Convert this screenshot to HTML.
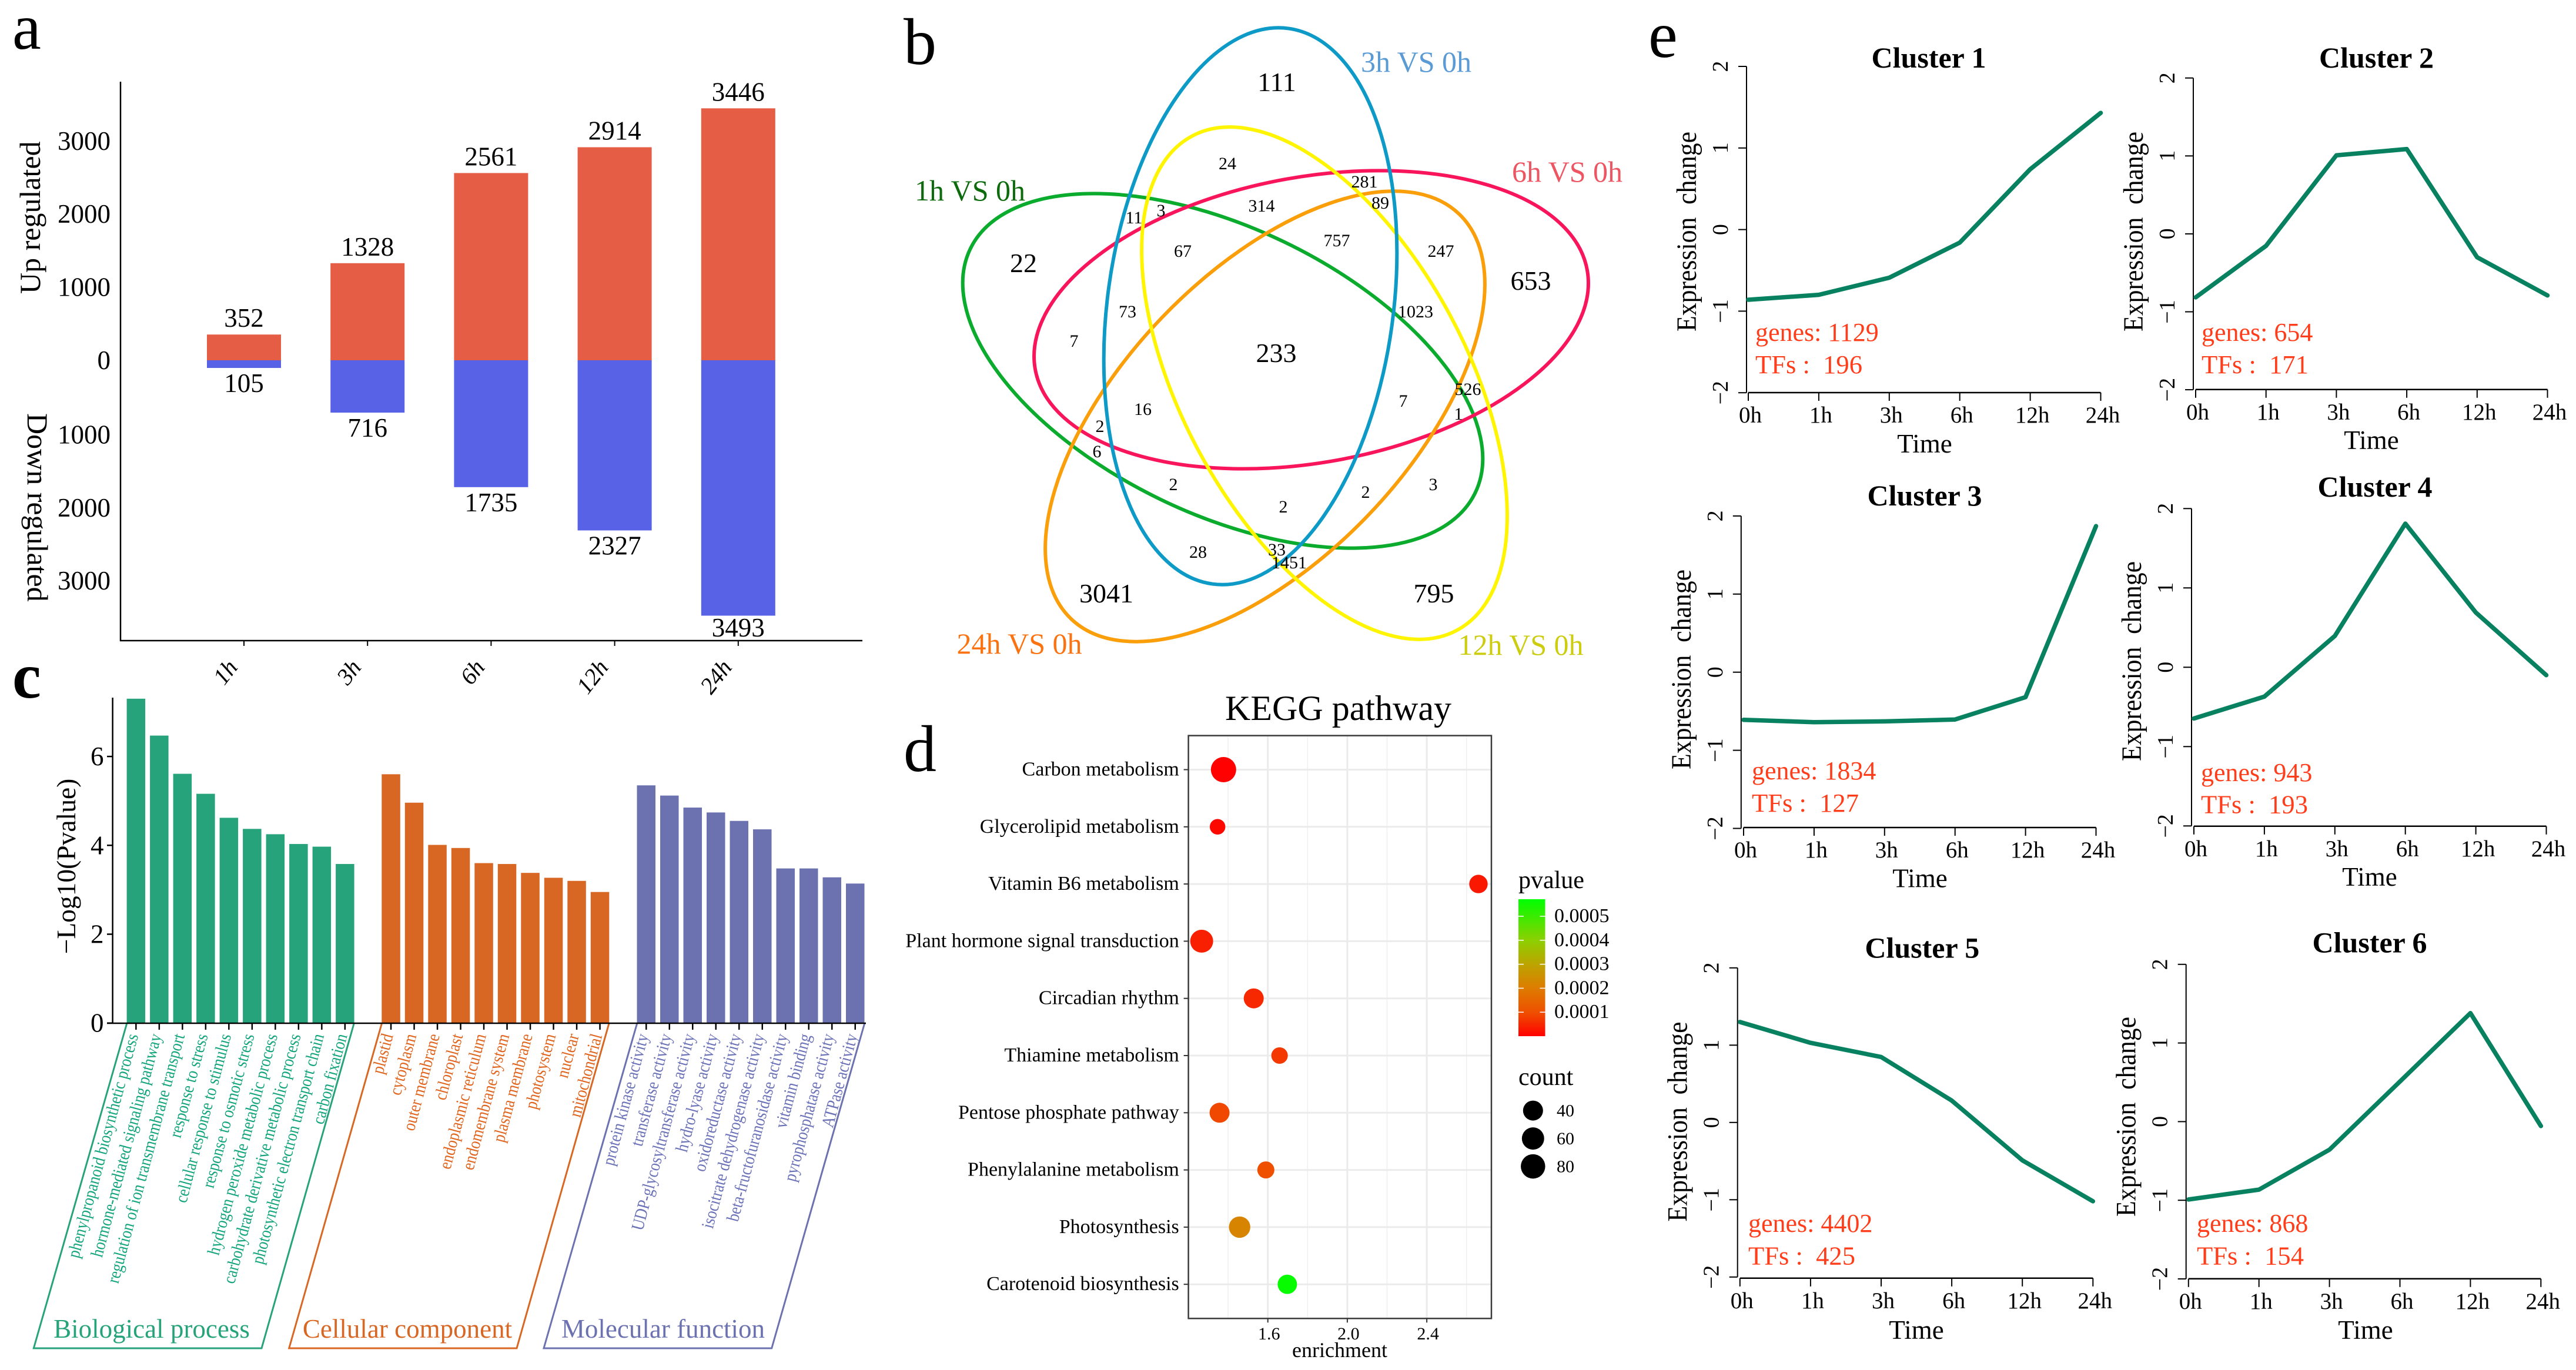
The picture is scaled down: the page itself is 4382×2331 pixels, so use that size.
<!DOCTYPE html>
<html lang="en">
<head>
<meta charset="utf-8">
<title>Transcriptome time-course figure</title>
<style>
html,body{margin:0;padding:0;background:#fff;}
svg{display:block;}
svg text{font-family:"Liberation Serif","Noto Serif CJK SC",serif;white-space:pre;}
</style>
</head>
<body>
<svg id="fig" xmlns="http://www.w3.org/2000/svg" width="4382" height="2331" viewBox="0 0 4382 2331">
<defs>
<linearGradient id="pvalGrad" x1="0" y1="1" x2="0" y2="0"></linearGradient>
</defs>
<rect x="0" y="0" width="4382" height="2331" fill="#ffffff"/>

<text x="21" y="83" font-size="110">a</text>
<text x="1537" y="109" font-size="112">b</text>
<text x="21" y="1187" font-size="110" font-weight="bold">c</text>
<text x="1537" y="1312" font-size="112">d</text>
<text x="2804" y="97" font-size="112">e</text>

<g id="panelA">
  <text transform="translate(68,500) rotate(-90)" font-size="50">Up regulated</text>
  <text transform="translate(47,703) rotate(90)" font-size="50">Down regulated</text>
</g>

<g id="panelB" font-size="30" text-anchor="middle">
  <ellipse cx="2080" cy="631" rx="243" ry="477" transform="rotate(-64.2 2080 631)" fill="none" stroke="#0bab2e" stroke-width="6"/>
  <ellipse cx="2230.5" cy="544" rx="243" ry="477" transform="rotate(79.8 2230.5 544)" fill="none" stroke="#f9155c" stroke-width="6"/>
  <ellipse cx="2152" cy="708.5" rx="243" ry="477" transform="rotate(43.8 2152 708.5)" fill="none" stroke="#fa9e0a" stroke-width="6"/>
  <ellipse cx="2253" cy="652" rx="243" ry="477" transform="rotate(-28.2 2253 652)" fill="none" stroke="#fff500" stroke-width="6"/>
  <ellipse cx="2127" cy="521" rx="243" ry="477" transform="rotate(7.8 2127 521)" fill="none" stroke="#0e9ac7" stroke-width="6"/>

  <text x="2409" y="122" font-size="50" fill="#5b9bd5">3h VS 0h</text>
  <text x="2666" y="309" font-size="50" fill="#ee5563">6h VS 0h</text>
  <text x="1650" y="341" font-size="50" fill="#0d6b0d">1h VS 0h</text>
  <text x="1734" y="1112" font-size="50" fill="#fb7310">24h VS 0h</text>
  <text x="2587" y="1114" font-size="50" fill="#cccc10">12h VS 0h</text>

  <text x="2172" y="155" font-size="46">111</text>
  <text x="2088" y="288">24</text>
  <text x="2321" y="319">281</text>
  <text x="2348" y="355">89</text>
  <text x="2146" y="360">314</text>
  <text x="1975" y="368">3</text>
  <text x="1929" y="380">11</text>
  <text x="2012" y="437">67</text>
  <text x="2274" y="419">757</text>
  <text x="2451" y="437">247</text>
  <text x="2604" y="493" font-size="46">653</text>
  <text x="1741" y="463" font-size="46">22</text>
  <text x="1918" y="540">73</text>
  <text x="2408" y="540">1023</text>
  <text x="1827" y="590">7</text>
  <text x="2171" y="616" font-size="46">233</text>
  <text x="1944" y="706">16</text>
  <text x="2497" y="672">526</text>
  <text x="2387" y="692">7</text>
  <text x="2481" y="714">1</text>
  <text x="1871" y="735">2</text>
  <text x="1866" y="778">6</text>
  <text x="1996" y="834">2</text>
  <text x="2438" y="834">3</text>
  <text x="2323" y="847">2</text>
  <text x="2183" y="872">2</text>
  <text x="2038" y="949">28</text>
  <text x="2172" y="945">33</text>
  <text x="2193" y="967">1451</text>
  <text x="1882" y="1025" font-size="46">3041</text>
  <text x="2439" y="1025" font-size="46">795</text>
</g>

<g id="panelC">
  <text transform="translate(128,1474) rotate(-90)" font-size="45.5" text-anchor="middle">−Log10(Pvalue)</text>
  <polyline points="215.6,1742 57.3,2294 445,2294 602,1742" fill="none" stroke="#27a37c" stroke-width="3"/>
  <polyline points="649.3,1742 491.7,2294 879,2294 1035.8,1742" fill="none" stroke="#d96724" stroke-width="3"/>
  <polyline points="1083.5,1742 925,2294 1312.7,2294 1470.5,1742" fill="none" stroke="#6c72b0" stroke-width="3"/>
  <text x="258" y="2276" font-size="45" text-anchor="middle" fill="#27a37c">Biological process</text>
  <text x="693" y="2276" font-size="45" text-anchor="middle" fill="#d96724">Cellular component</text>
  <text x="1128" y="2276" font-size="45" text-anchor="middle" fill="#6c72b0">Molecular function</text>
</g>

<g id="panelD">
  <text x="2276.5" y="1225" font-size="60" text-anchor="middle">KEGG pathway</text>
  <text x="2279" y="2309" font-size="36" text-anchor="middle">enrichment</text>
  <text x="2583" y="1511" font-size="42">pvalue</text>
  <text x="2583" y="1846" font-size="42">count</text>
  <rect x="2583" y="1530" width="45.5" height="233" fill="url(#pvalGrad)"/>
</g>

<g id="panelE"></g>
</svg>

<script>
/* ---------- Panel a data ---------- */
const timeCategories = ['1h', '3h', '6h', '12h', '24h'];
const upCounts = [352, 1328, 2561, 2914, 3446];
const downCounts = [105, 716, 1735, 2327, 3493];
const upTicks = [0, 1000, 2000, 3000];
const downTicks = [1000, 2000, 3000];

/* ---------- Panel c data ---------- */
const bpTerms = ['phenylpropanoid biosynthetic process', 'hormone-mediated signaling pathway', 'regulation of ion transmembrane transport', 'response to stress', 'cellular response to stimulus', 'response to osmotic stress', 'hydrogen peroxide metabolic process', 'carbohydrate derivative metabolic process', 'photosynthetic electron transport chain', 'carbon fixation'];
const bpValues = [7.30, 6.47, 5.61, 5.16, 4.62, 4.37, 4.25, 4.03, 3.97, 3.58];
const ccTerms = ['plastid', 'cytoplasm', 'outer membrane', 'chloroplast', 'endoplasmic reticulum', 'endomembrane system', 'plasma membrane', 'photosystem', 'nuclear', 'mitochondrial'];
const ccValues = [5.60, 4.96, 4.01, 3.94, 3.60, 3.58, 3.38, 3.27, 3.20, 2.95];
const mfTerms = ['protein kinase activity', 'transferase activity', 'UDP-glycosyltransferase activity', 'hydro-lyase activity', 'oxidoreductase activity', 'isocitrate dehydrogenase activity', 'beta-fructofuranosidase activity', 'vitamin binding', 'pyrophosphatase activity', 'ATPase activity'];
const mfValues = [5.35, 5.12, 4.85, 4.74, 4.55, 4.36, 3.48, 3.48, 3.28, 3.14];
const goTicks = [0, 2, 4, 6];

/* ---------- Panel d data ---------- */
const keggPathways = ['Carbon metabolism', 'Glycerolipid metabolism', 'Vitamin B6 metabolism', 'Plant hormone signal transduction', 'Circadian rhythm', 'Thiamine metabolism', 'Pentose phosphate pathway', 'Phenylalanine metabolism', 'Photosynthesis', 'Carotenoid biosynthesis'];
const keggEnrichment = [1.377, 1.347, 2.66, 1.267, 1.529, 1.659, 1.357, 1.59, 1.458, 1.698];
const keggCount = [89, 8, 28, 66, 40, 14, 40, 18, 52, 35];
const keggPvalue = [0.000001, 0.00001, 0.00003, 0.00004, 0.00005, 0.00007, 0.00009, 0.0001, 0.00022, 0.00056];
const enrichmentTicks = [1.6, 2.0, 2.4];
const enrichmentMinorTicks = [1.4, 1.8, 2.2, 2.6];
const pvalueTicks = [0.0001, 0.0002, 0.0003, 0.0004, 0.0005];
const pvalueScaleDomain = [0, 0.0001, 0.0002, 0.0003, 0.0004, 0.00057];
const pvalueScaleColors = ['#ff0000', '#ee5000', '#de7c00', '#bca400', '#8cd000', '#00ff00'];
const countLegend = [40, 60, 80];

/* ---------- Panel e data ---------- */
const clusterTimes = ['0h', '1h', '3h', '6h', '12h', '24h'];
const clusterYTicks = [-2, -1, 0, 1, 2];
const cluster1Values = [-0.86, -0.80, -0.59, -0.16, 0.74, 1.43];
const cluster2Values = [-0.815, -0.154, 1.008, 1.088, -0.30, -0.79];
const cluster3Values = [-0.61, -0.64, -0.63, -0.606, -0.32, 1.87];
const cluster4Values = [-0.646, -0.37, 0.395, 1.81, 0.69, -0.10];
const cluster5Values = [1.30, 1.03, 0.847, 0.283, -0.49, -1.02];
const cluster6Values = [-0.99, -0.865, -0.357, 0.51, 1.38, -0.056];
const clusterGenes = [1129, 654, 1834, 943, 4402, 868];
const clusterTFs = [196, 171, 127, 193, 425, 154];

/* ---------- helpers ---------- */
const NS = 'http://www.w3.org/2000/svg';
function node(parent, tag, attrs) {
  const e = document.createElementNS(NS, tag);
  for (const k in attrs) e.setAttribute(k, attrs[k]);
  parent.appendChild(e);
  return e;
}
function label(parent, str, x, y, size, opts) {
  const o = opts || {};
  const e = node(parent, 'text', { x: x, y: y, 'font-size': size });
  if (o.anchor) e.setAttribute('text-anchor', o.anchor);
  if (o.fill) e.setAttribute('fill', o.fill);
  if (o.weight) e.setAttribute('font-weight', o.weight);
  if (o.italic) e.setAttribute('font-style', 'italic');
  if (o.squeeze) {
    e.setAttribute('transform', 'translate(' + x + ' ' + y + ') rotate(' + (o.rotate || 0) + ') scale(' + o.squeeze + ' 1) translate(' + (-x) + ' ' + (-y) + ')');
  } else if (o.rotate !== undefined) {
    e.setAttribute('transform', 'rotate(' + o.rotate + ' ' + x + ' ' + y + ')');
  }
  if (o.length) { e.setAttribute('textLength', o.length); e.setAttribute('lengthAdjust', 'spacingAndGlyphs'); }
  e.textContent = str;
  return e;
}
function line(parent, x1, y1, x2, y2, color, w) {
  return node(parent, 'line', { x1: x1, y1: y1, x2: x2, y2: y2, stroke: color, 'stroke-width': w });
}

/* ---------- Panel a ---------- */
(function () {
  const g = document.getElementById('panelA');
  const xA = i => 415 + i * 210.2;
  const yA = v => 613 - v * 0.1244;
  const barW = 126;
  timeCategories.forEach((c, i) => {
    const topUp = yA(upCounts[i]);
    const up = node(g, 'rect', { x: xA(i) - barW / 2, y: topUp, width: barW, height: yA(0) - topUp, fill: '#e65d46' });
    
    
    const bottom = yA(-downCounts[i]);
    const dn = node(g, 'rect', { x: xA(i) - barW / 2, y: yA(0), width: barW, height: bottom - yA(0), fill: '#5762e6' });
    
    
    const upL = label(g, String(upCounts[i]), xA(i), topUp - 13, 45, { anchor: 'middle' });
    
    
    const dnL = label(g, String(downCounts[i]), xA(i), Math.min(bottom + 41, 1083), 45, { anchor: 'middle' });
    
    
    const tick = line(g, xA(i), 1090, xA(i), 1099, '#000', 2);
    
    
    const tl = label(g, c, xA(i) - 9, 1136, 40, { anchor: 'end', italic: true, rotate: -52 });
    
    
  });
  upTicks.forEach(v => {
    const t = label(g, String(v), 188, yA(v) + 15, 45, { anchor: 'end' });
    
    
  });
  downTicks.forEach(v => {
    const t = label(g, String(v), 188, yA(-v) + 17, 45, { anchor: 'end' });
    
    
  });
  const ya = line(g, 205, 139, 205, 1091, '#000', 2.5);
  
  
  const xa = line(g, 204, 1090, 1467, 1090, '#000', 2.5);
  
  
})();

/* ---------- Panel c ---------- */
(function () {
  const g = document.getElementById('panelC');
  const yC = v => 1740.7 - v * 75.6;
  const groups = [
    { start: 215.6, color: '#27a37c', textColor: '#14a57c', terms: bpTerms, vals: bpValues },
    { start: 649.3, color: '#d96724', textColor: '#e0651f', terms: ccTerms, vals: ccValues },
    { start: 1083.5, color: '#6c72b0', textColor: '#6c72b8', terms: mfTerms, vals: mfValues }
  ];
  const step = 39.5, w = 31.5;
  groups.forEach(gr => {
    gr.vals.forEach((v, i) => {
      const x = gr.start + i * step;
      const b = node(g, 'rect', { x: x, y: yC(v), width: w, height: yC(0) - yC(v), fill: gr.color });
      
      
      const tk = line(g, x + w / 2, 1741, x + w / 2, 1752, '#000', 2.5);
      
      
      const t = label(g, gr.terms[i], x + w / 2 + 4, 1762, 30, { anchor: 'end', rotate: -75, squeeze: 0.865, fill: gr.textColor });
      
      
    });
  });
  goTicks.forEach(v => {
    const tk = line(g, 182, yC(v), 191.6, yC(v), '#000', 2.5);
    
    
    const t = label(g, String(v), 176.5, yC(v) + 15, 45, { anchor: 'end' });
    
    
  });
  const ya = line(g, 191.6, 1187, 191.6, 1741, '#000', 2.5);
  
  
  const xa = line(g, 182, 1741, 1473, 1741, '#000', 2.5);
  
  
})();

/* ---------- Panel d ---------- */
(function () {
  const g = document.getElementById('panelD');
  const xD = v => 2156.7 + (v - 1.6) * 338;
  const yD = i => 1309.5 + i * 97.3;
  const radius = c => Math.sqrt(1156 + 14.15 * (c - 40)) / 2;
  function pvalColor(p) {
    const d = pvalueScaleDomain, c = pvalueScaleColors;
    let i = 0;
    while (i < d.length - 2 && p > d[i + 1]) i++;
    const t = Math.min(1, Math.max(0, (p - d[i]) / (d[i + 1] - d[i])));
    const hex = s => [1, 3, 5].map(k => parseInt(s.substr(k, 2), 16));
    const a = hex(c[i]), b = hex(c[i + 1]);
    return 'rgb(' + a.map((q, k) => Math.round(q + (b[k] - q) * t)).join(',') + ')';
  }
  const grad = document.getElementById('pvalGrad');
  pvalueScaleDomain.forEach((d, i) => {
    node(grad, 'stop', { offset: d / 0.00057, 'stop-color': pvalueScaleColors[i] });
  });
  const plotL = 2021.6, plotR = 2537, plotT = 1251.6, plotB = 2243.3;
  enrichmentMinorTicks.forEach(v => {
    const m = line(g, xD(v), plotT, xD(v), plotB, '#efefef', 1.5);
    
    
  });
  enrichmentTicks.forEach(v => {
    const m = line(g, xD(v), plotT, xD(v), plotB, '#ebebeb', 3);
    
    
    const tk = line(g, xD(v), plotB, xD(v), plotB + 7, '#333', 2);
    
    
    const t = label(g, v.toFixed(1), xD(v) + 2, 2279, 30, { anchor: 'middle' });
    
    
  });
  keggPathways.forEach((p, i) => {
    const h = line(g, plotL, yD(i), plotR, yD(i), '#ebebeb', 3);
    
    
    const tk = line(g, plotL - 8, yD(i), plotL, yD(i), '#333', 2);
    
    
    const t = label(g, p, 2005.8, yD(i) + 10, 34, { anchor: 'end' });
    
    
  });
  keggPathways.forEach((p, i) => {
    const c = node(g, 'circle', { cx: xD(keggEnrichment[i]), cy: yD(i), r: radius(keggCount[i]), fill: pvalColor(keggPvalue[i]) });
    
    
  });
  const frame = node(g, 'rect', { x: plotL, y: plotT, width: plotR - plotL, height: plotB - plotT, fill: 'none', stroke: '#3a3a3a', 'stroke-width': 2.5 });
  
  
  const yP = p => 1763 - (p / 0.0001) * 40.8;
  pvalueTicks.forEach(p => {
    const a = line(g, 2583, yP(p), 2592, yP(p), '#ffffff', 1.5);
    
    
    const b = line(g, 2619.5, yP(p), 2628.5, yP(p), '#ffffff', 1.5);
    
    
    const t = label(g, p.toFixed(4), 2644, yP(p) + 10, 34);
    
    
  });
  countLegend.forEach((c, i) => {
    const y = 1889.6 + i * 47.5;
    const d = node(g, 'circle', { cx: 2607.8, cy: y, r: radius(c), fill: '#000' });
    
    
    const t = label(g, String(c), 2648, y + 10, 30);
    
    
  });
})();

/* ---------- Panel e ---------- */
function drawCluster(title, values, genes, tfs, L) {
  const root = document.getElementById('panelE');
  const g = node(root, 'g', {});
  
  
  const yZero = L.yTop + 2 * L.yStep;
  const yS = v => yZero - v * L.yStep;
  const xS = i => L.xStart + i * L.xStep;
  const tt = label(g, title, L.titleX, L.titleY, 50, { anchor: 'middle', weight: 'bold' });
  
  
  const ya = line(g, L.axisX, yS(2), L.axisX, yS(-2), '#000', 2);
  
  
  clusterYTicks.forEach(v => {
    const tk = line(g, L.axisX - 14, yS(v), L.axisX, yS(v), '#000', 2);
    
    
    const t = label(g, v < 0 ? '−' + Math.abs(v) : String(v), L.axisX - 32, yS(v), 38, { anchor: 'middle', rotate: -90 });
    
    
  });
  const xa = line(g, xS(0), L.axisY, xS(clusterTimes.length - 1), L.axisY, '#000', 2.5);
  
  
  clusterTimes.forEach((c, i) => {
    const tk = line(g, xS(i), L.axisY, xS(i), L.axisY + 14, '#000', 2);
    
    
    const t = label(g, c, xS(i) + 3.5, L.axisY + 51, 39, { anchor: 'middle' });
    
    
  });
  const pts = values.map((v, i) => xS(i) + ',' + yS(v)).join(' ');
  const pl = node(g, 'polyline', { points: pts, fill: 'none', stroke: '#078160', 'stroke-width': 7.5, 'stroke-linejoin': 'round', 'stroke-linecap': 'round' });
  
  
  const yt = label(g, 'Expression  change', L.axisX - 86, L.yTitleCenter, 48, { anchor: 'middle', rotate: -90, length: 340 });
  
  
  const tm = label(g, 'Time', L.timeX, L.timeY, 45, { anchor: 'middle' });
  
  
  const gl = label(g, 'genes: ' + genes, L.textX, L.genesY + 1, 44, { fill: '#ff3d1a' });
  
  
  const tl = label(g, 'TFs :  ' + tfs, L.textX, L.tfsY + 1, 44, { fill: '#ff3d1a', length: 182 });
  
  
}
drawCluster('Cluster 1', cluster1Values, clusterGenes[0], clusterTFs[0], { axisX: 2971, yTop: 113, yStep: 138.8, axisY: 668, xStart: 2974, xStep: 119.9, titleX: 3281, titleY: 115, textX: 2986, genesY: 579, tfsY: 634, yTitleCenter: 394, timeX: 3274, timeY: 770 });
drawCluster('Cluster 2', cluster2Values, clusterGenes[1], clusterTFs[1], { axisX: 3731, yTop: 132.7, yStep: 132.6, axisY: 662.8, xStart: 3735, xStep: 119.7, titleX: 4042.5, titleY: 115, textX: 3745, genesY: 579, tfsY: 634, yTitleCenter: 394, timeX: 4034, timeY: 764 });
drawCluster('Cluster 3', cluster3Values, clusterGenes[2], clusterTFs[2], { axisX: 2961.8, yTop: 877.9, yStep: 132.9, axisY: 1408, xStart: 2966, xStep: 119.9, titleX: 3274, titleY: 860, textX: 2980, genesY: 1325, tfsY: 1380, yTitleCenter: 1139, timeX: 3266, timeY: 1509.5 });
drawCluster('Cluster 4', cluster4Values, clusterGenes[3], clusterTFs[3], { axisX: 3728, yTop: 865.3, yStep: 135, axisY: 1405.8, xStart: 3732, xStep: 119.9, titleX: 4040, titleY: 845, textX: 3744, genesY: 1328, tfsY: 1382.5, yTitleCenter: 1125, timeX: 4031, timeY: 1507 });
drawCluster('Cluster 5', cluster5Values, clusterGenes[4], clusterTFs[4], { axisX: 2955.7, yTop: 1646.8, yStep: 131.5, axisY: 2174.8, xStart: 2959.8, xStep: 120.1, titleX: 3269.8, titleY: 1629.7, textX: 2974, genesY: 2095, tfsY: 2150.6, yTitleCenter: 1908.5, timeX: 3260, timeY: 2278 });
drawCluster('Cluster 6', cluster6Values, clusterGenes[5], clusterTFs[5], { axisX: 3718.7, yTop: 1640.8, yStep: 133.8, axisY: 2175.8, xStart: 3722.8, xStep: 119.9, titleX: 4031, titleY: 1620.6, textX: 3737, genesY: 2095, tfsY: 2150.6, yTitleCenter: 1900, timeX: 4024, timeY: 2278 });
</script>
</body>
</html>
